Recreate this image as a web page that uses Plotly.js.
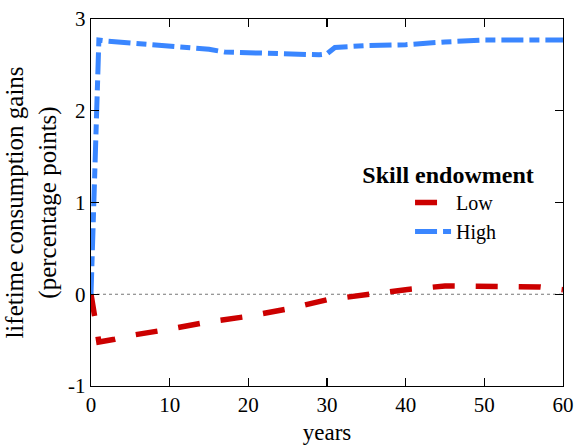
<!DOCTYPE html>
<html><head><meta charset="utf-8">
<script src="https://cdn.plot.ly/plotly-3.0.1.min.js"></script>
<style>html,body{margin:0;padding:0;background:#fff}#c{width:575px;height:445px}</style>
</head><body><div id="c"></div>
<script>
const yearsLow = [0, 1, 3, 5, 10, 15, 20, 25, 30, 35, 40, 45, 50, 55, 57, 60];
const lowVals  = [0, -0.52, -0.49, -0.45, -0.38, -0.30, -0.24, -0.16, -0.06, 0.00, 0.05, 0.09, 0.09, 0.09, 0.08, 0.05];
const yearsHigh = [0, 1, 2, 5, 10, 15, 17, 20, 25, 29, 30, 31, 35, 40, 45, 50, 55, 60];
const highVals  = [0, 2.77, 2.76, 2.74, 2.71, 2.67, 2.64, 2.63, 2.62, 2.61, 2.62, 2.69, 2.71, 2.72, 2.75, 2.77, 2.77, 2.77];
const xTicks = [0, 10, 20, 30, 40, 50, 60];
const yTicks = [-1, 0, 1, 2, 3];
const yTickText = ["-1", "0", "1", "2", "3"];

const font = "'Liberation Serif', 'Times New Roman', serif";
const data = [
  {x: yearsLow, y: lowVals, name: "Low", mode: "lines",
   line: {color: "#cc0000", width: 5.5, dash: "22px,21px"}},
  {x: yearsHigh, y: highVals, name: "High", mode: "lines",
   line: {color: "#3a86ff", width: 5, dash: "22px,6px,10px,6px"}}
];
const axisCommon = {showline: true, linecolor: "#000", linewidth: 1.2, mirror: "ticks",
  ticks: "inside", ticklen: 8, tickcolor: "#000", tickwidth: 1.2,
  showgrid: false, zeroline: false, tickfont: {family: font, size: 21, color: "#000"}};
const layout = {
  width: 575, height: 445,
  margin: {l: 91, r: 12, t: 19, b: 59},
  paper_bgcolor: "#fff", plot_bgcolor: "#fff",
  font: {family: font, color: "#000"},
  showlegend: true,
  xaxis: Object.assign({}, axisCommon, {range: [0, 60], tickvals: xTicks,
    title: {text: "years", font: {family: font, size: 23}, standoff: 10}}),
  yaxis: Object.assign({}, axisCommon, {range: [-1, 3], tickvals: yTicks, ticktext: yTickText,
    title: {text: "lifetime consumption gains<br>(percentage points)", font: {family: font, size: 25}, standoff: 4}}),
  legend: {x: 0.57, y: 0.638, xanchor: "left", yanchor: "top", bgcolor: "rgba(0,0,0,0)",
    font: {family: font, size: 20, color: "#000"}, indentation: 50, itemwidth: 36,
    title: {text: "<b>Skill endowment</b>", side: "top center", font: {family: font, size: 24}},
    tracegroupgap: 0},
  shapes: [{type: "line", xref: "paper", x0: 0, x1: 1, yref: "y", y0: 0, y1: 0,
    line: {color: "#777", width: 1, dash: "dot"}, layer: "below"}]
};
Plotly.newPlot("c", data, layout, {displayModeBar: false, staticPlot: true});
</script></body></html>
